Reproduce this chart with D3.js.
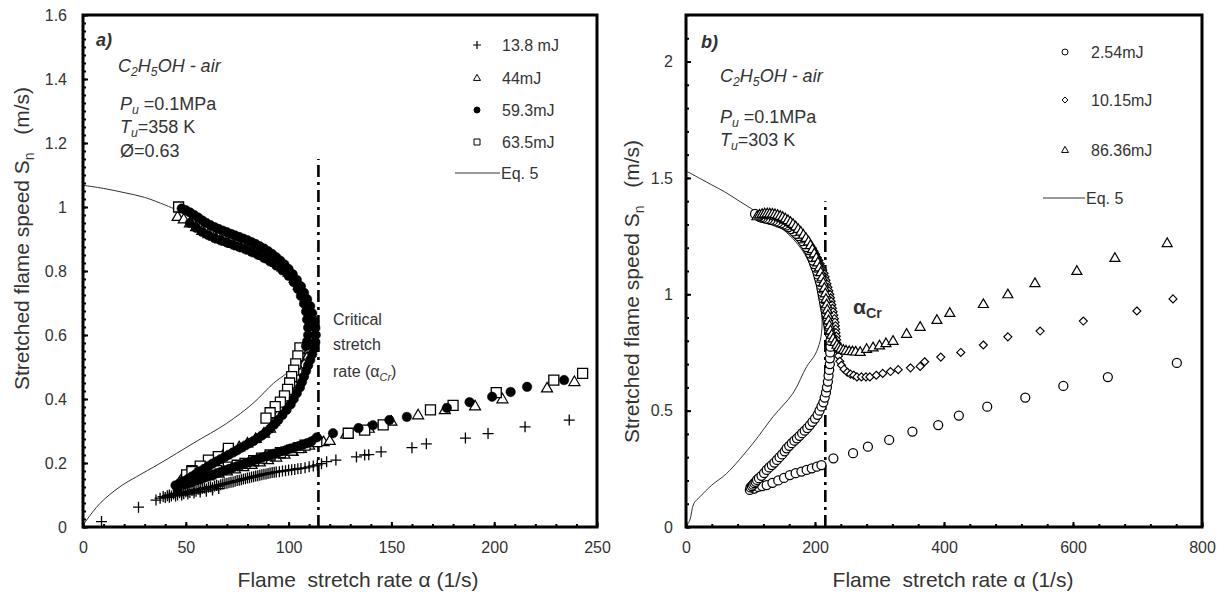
<!DOCTYPE html>
<html>
<head>
<meta charset="utf-8">
<script src="https://cdn.jsdelivr.net/npm/d3@7"></script>
<style>
  body { margin: 0; background: #fff; }
  svg { display: block; font-family: "Liberation Sans", Arial, sans-serif; }
</style>
</head>
<body>
<svg id="chart" width="1227" height="596"></svg>
<script>
// tick labels
var aXTicks = [0, 50, 100, 150, 200, 250];
var aYTicks = [0, 0.2, 0.4, 0.6, 0.8, 1, 1.2, 1.4, 1.6];
var bXTicks = [0, 200, 400, 600, 800];
var bYTicks = [0, 0.5, 1, 1.5, 2];

// critical stretch rate lines [alpha, top of line]
var aCritical = [114.5, 1.15];
var bCritical = [216, 1.40];

var aLegend = ["13.8 mJ", "44mJ", "59.3mJ", "63.5mJ", "Eq. 5"];
var bLegend = ["2.54mJ", "10.15mJ", "86.36mJ", "Eq. 5"];

// panel a) : [stretch rate 1/s, flame speed m/s]
var a13_8 = [[9,0.017],[27,0.062],[35.5,0.084],[37.5,0.09],[39,0.095],[40,0.092],[41,0.098],[42,0.1],[43,0.097],
  [44,0.103],[45,0.105],[46,0.1],[47,0.107],[48,0.108],[49,0.104],[50,0.11],[51,0.112],[52,0.108],[53,0.114],
  [54,0.116],[55,0.112],[56,0.118],[57,0.117],[58,0.12],[59,0.122],[60,0.119],[61,0.124],[62,0.126],[63,0.123],
  [64,0.128],[65,0.13],[66,0.128],[67,0.132],[68,0.134],[69,0.135],[70,0.137],[71,0.138],[72,0.14],[73,0.141],
  [74,0.143],[75,0.145],[76,0.146],[77,0.148],[78,0.15],[79,0.151],[80,0.153],[81,0.154],[82,0.156],[83,0.157],
  [84,0.159],[85,0.16],[86,0.162],[87,0.163],[88,0.165],[89,0.166],[90,0.167],[91,0.169],[92,0.17],[93,0.171],
  [94,0.172],[95.5,0.173],[97,0.175],[98.5,0.176],[100,0.178],[101.5,0.179],[103,0.18],[104.5,0.182],[106,0.183],
  [108,0.185],[110,0.188],[112,0.191],[114,0.194],[116,0.198],[118.5,0.204],[123,0.209],[133,0.219],[137,0.225],
  [139,0.226],[145,0.235],[160,0.248],[167,0.26],[186,0.278],[197,0.292],[215,0.313],[236.5,0.334],
  [42,0.093],[45,0.097],[48,0.1],[51,0.103],[54,0.106],[57,0.109],[60,0.112],[63,0.116],[66,0.12]];

var a44 = [[46,0.97],[49,0.962],[52,0.95],[55,0.938],[58,0.926],[61,0.916],[64,0.908],[67,0.9],[70,0.893],
  [73,0.886],[76,0.879],[79,0.872],[82,0.865],[85,0.857],[88,0.848],[91,0.838],[94,0.826],[97,0.812],[100,0.796],
  [103,0.776],[105,0.755],[107,0.73],[108.5,0.705],[110,0.68],[111,0.655],[111.5,0.63],[111.5,0.604],[111,0.578],
  [110,0.553],[109,0.53],[107.5,0.508],[106,0.486],[104.5,0.464],[103,0.443],[101,0.42],[99,0.398],[97,0.375],
  [95,0.352],[93,0.33],[91,0.308],[88,0.293],[84,0.276],[80,0.262],[76,0.25],[72,0.237],[68,0.224],[64,0.211],
  [60,0.197],[56,0.182],[52,0.166],[48,0.15],
  [47,0.14],[50,0.143],[54,0.149],[58,0.156],[62,0.162],[66,0.168],[70,0.175],[74,0.181],[78,0.188],[82,0.195],
  [86,0.203],[90,0.21],[94,0.218],[98,0.227],[102,0.236],[106,0.245],[110,0.255],[117,0.266],[120,0.27],[128,0.29],
  [139,0.308],[150,0.33],[163,0.35],[176,0.366],[190.7,0.378],[204,0.4],[225.7,0.434],[239,0.454]];

var a59_3 = [[48,0.995],[50,0.99],[52,0.983],[54,0.975],[56,0.967],[58,0.958],[60,0.95],[62,0.943],[64,0.937],
  [66,0.931],[68,0.926],[70,0.921],[72,0.916],[74,0.911],[76,0.906],[78,0.901],[80,0.896],[82,0.89],[84,0.884],
  [86,0.877],[88,0.87],[90,0.862],[92,0.853],[94,0.843],[96,0.832],[98,0.82],[100,0.806],[102,0.79],[104,0.772],
  [106,0.752],[107.5,0.732],[109,0.712],[110.5,0.69],[111.5,0.668],[112.5,0.645],[113,0.622],[113.2,0.6],
  [113,0.578],[112.5,0.558],[111.5,0.54],[110.5,0.522],[109.5,0.505],[108.5,0.488],[107.5,0.47],[106.5,0.453],
  [105.5,0.436],[104,0.418],[102.5,0.4],[101,0.383],[99,0.366],[97,0.35],[95,0.335],[93,0.32],[91,0.307],
  [89,0.296],[87,0.286],[85,0.277],[83,0.269],[81,0.262],[79,0.255],[77,0.248],[75,0.24],[73,0.233],[71,0.226],
  [69,0.219],[67,0.212],[65,0.205],[63,0.198],[61,0.19],[59,0.182],[57,0.174],[55,0.166],[53,0.158],[51,0.15],
  [49,0.143],[47,0.137],[45,0.13],[46,0.122],
  [52,0.95],[55,0.935],[58,0.922],[61,0.912],[64,0.903],[67,0.896],[70,0.889],[73,0.882],[76,0.875],[79,0.868],
  [82,0.86],[85,0.851],[88,0.841],[91,0.83],[94,0.817],[97,0.802],[100,0.785],[102.5,0.765],[104.5,0.744],
  [106,0.722],[107.5,0.698],[108.5,0.673],[109,0.648],[109.5,0.623],[109.5,0.6],[109,0.58],[108.5,0.565],
  [49,0.132],[51,0.136],[53,0.14],[55,0.145],[57,0.149],[59,0.154],[61,0.159],[63,0.163],[65,0.168],[67,0.172],
  [69,0.177],[71,0.181],[73,0.186],[75,0.19],[77,0.195],[79,0.199],[81,0.203],[83,0.208],[85,0.212],[87,0.217],
  [89,0.221],[91,0.225],[93,0.229],[95,0.233],[97,0.237],[99,0.241],[101,0.245],[103,0.249],[105,0.253],
  [107,0.257],[109,0.262],[111,0.267],[113.7,0.28],[121.6,0.293],[134,0.309],[141,0.318],[149,0.334],
  [157.5,0.344],[177,0.372],[188,0.39],[199,0.407],[208,0.422],[216,0.438],[234,0.459]];

var a63_5 = [[46.5,1.0],
  [105.5,0.56],[104.5,0.535],[103.5,0.51],[102.5,0.49],[101.5,0.47],[100.5,0.45],[99.5,0.43],[98,0.41],
  [96,0.39],[93.5,0.376],[91,0.357],[89,0.34],
  [70.7,0.246],[65.8,0.22],[61,0.209],[57,0.19],[53,0.176],[50.4,0.163],
  [53,0.173],[57,0.168],[61,0.163],[65,0.176],[70.7,0.187],[75,0.193],[78.8,0.199],[83,0.207],[86.9,0.215],
  [91,0.225],[96,0.232],[101.5,0.24],[105,0.248],[108,0.256],[113.7,0.267],[129,0.293],[137,0.303],
  [146,0.319],[169,0.366],[180,0.38],[201,0.42],[229,0.459],[243,0.48]];

var aEq5 = [[0,1.068],[10,1.058],[20,1.045],[30,1.03],[40,1.006],[46,0.99],[55,0.968],[65,0.94],[75,0.91],
  [85,0.875],[95,0.83],[103,0.775],[108,0.715],[111,0.65],[111.5,0.6],[110,0.56],[107,0.53],[103,0.5],
  [98,0.475],[92.6,0.449],[82.8,0.387],[69.9,0.324],[53.7,0.262],[37.5,0.199],[26,0.157],[18,0.126],
  [8.3,0.074],[1.8,0.022],[0,0.005]];

// panel b)
var b2_54 = [[99,0.159],[106,0.165],[112,0.172],[118,0.176],[125,0.18],[134,0.19],[143,0.2],[152,0.211],
  [161,0.223],[170,0.231],[179,0.238],[187,0.245],[195,0.252],[203,0.259],[210,0.266],[228.5,0.295],[259,0.317],
  [282,0.345],[315,0.374],[351,0.41],[391,0.438],[423,0.479],[467,0.517],[526,0.556],[585,0.606],[654,0.644],
  [761,0.705],
  [100,0.17],[102,0.176],[104,0.182],[106,0.188],[108,0.194],[110,0.202],[113,0.21],[117,0.22],[121,0.232],
  [125,0.245],[129,0.256],[133,0.266],[137,0.277],[141,0.288],[145,0.3],[149,0.312],[153,0.325],[156,0.338],
  [160,0.349],[164,0.36],[168,0.371],[172,0.381],[176,0.392],[180,0.403],[184,0.414],[188,0.425],[192,0.438],
  [196,0.452],[200,0.466],[204,0.482],[207,0.5],[210,0.518],[213,0.536],[215,0.556],[217,0.578],[218.5,0.6],
  [220,0.625],[221,0.65],[222,0.675],[223,0.7],[223,0.725],[223.5,0.75],[224,0.775],[224,0.8],
  [223,0.83],[222,0.845],[221,0.86],[220,0.875],[219,0.89],[218,0.905],[217,0.92],[216,0.935],[215,0.95],
  [214,0.965],[213,0.98],[212,0.995],[211,1.01],[210,1.025],[209,1.04],[207.5,1.055],[206,1.07],[204.5,1.085],
  [203,1.1],[201,1.115],[199,1.13],[197,1.145],[195,1.16],[192.5,1.175],[190,1.19],[187,1.203],[184,1.215],
  [181,1.228],[178,1.24],[174.5,1.25],[171,1.26],[167,1.27],[163,1.28],[159,1.288],[155,1.295],[151,1.3],
  [147,1.305],[143,1.309],[139,1.313],[135,1.317],[131,1.32],[127,1.323],[123,1.325],[119,1.328],[116,1.33],
  [113,1.335],[110,1.34],[107,1.345]];

var b10_15 = [[114,1.345],[118,1.344],[122,1.342],[126,1.34],[130,1.338],[134,1.335],[138,1.332],[142,1.328],
  [146,1.323],[150,1.318],[154,1.312],[158,1.305],[162,1.298],[166,1.29],[170,1.282],[174,1.273],[177,1.264],
  [180.5,1.254],[184,1.244],[187,1.233],[190,1.222],[193,1.21],[196,1.198],[198.5,1.185],[201,1.172],
  [203.5,1.158],[206,1.145],[208,1.131],[210,1.118],[212,1.104],[214,1.09],[215.5,1.075],[217,1.06],
  [218.5,1.045],[220,1.03],[221.5,1.015],[223,1.0],[224,0.985],[225,0.97],[226,0.955],[227,0.94],[228,0.925],
  [229,0.91],[230,0.895],[231,0.88],[231.5,0.865],[232,0.85],[232.5,0.835],[233,0.82],[233.5,0.805],[234,0.79],
  [234.5,0.775],[235,0.76],[236.5,0.735],[238.5,0.712],[241,0.695],[245,0.678],[250,0.665],[255,0.657],
  [260,0.652],[265,0.645],[272,0.645],[279,0.645],[285,0.645],[295,0.652],[305,0.66],[317,0.668],[329,0.676],
  [348,0.684],[363,0.69],[370,0.71],[395,0.73],[426,0.75],[461,0.782],[499,0.817],[549,0.842],[616,0.885],
  [699,0.928],[755,0.98]];

var b86_36 = [[110,1.335],[114,1.342],[118,1.345],[122,1.347],[126,1.348],[130,1.347],[134,1.346],[138,1.344],
  [142,1.341],[146,1.337],[150,1.332],[154,1.326],[158,1.319],[162,1.311],[166,1.302],[170,1.292],[174,1.281],
  [178,1.269],[182,1.256],[186,1.242],[190,1.227],[193,1.211],[196,1.194],[199,1.176],[202,1.157],
  [204.5,1.137],[207,1.116],[209,1.095],[211,1.073],[213,1.05],[214.5,1.027],[216,1.004],[217,0.98],
  [218,0.957],[219,0.934],[220,0.911],[221,0.888],[222.5,0.866],[224,0.845],[226,0.826],[228,0.81],[231,0.795],
  [234,0.783],[237,0.773],[240,0.766],[244,0.761],[248,0.758],[253,0.756],[258,0.755],[263,0.754],[270,0.752],
  [280,0.765],[290,0.772],[300,0.78],[310,0.79],[321,0.8],[342,0.83],[363,0.86],[389,0.89],[409,0.92],
  [461,0.958],[499,1.0],[541,1.048],[606,1.1],[665,1.156],[746,1.22]];

var bEq5 = [[0,1.53],[20,1.5],[40,1.47],[60,1.44],[80,1.405],[100,1.37],[120,1.335],[140,1.3],[160,1.255],
  [180,1.19],[195,1.11],[205,1.02],[210,0.94],[211,0.87],[208,0.8],[200,0.74],[187,0.689],[166,0.575],
  [135,0.474],[104,0.36],[63,0.23],[40,0.18],[21.7,0.13],[12,0.1],[6,0.03],[0,0.0]];

var svg = d3.select("#chart");
var textColor = "#333";

function markerPath(type, s){
  var h = s / 2;
  if (type == "plus") return "M" + (-h) + ",0H" + h + "M0," + (-h) + "V" + h;
  if (type == "square") return "M" + (-h) + "," + (-h) + "h" + s + "v" + s + "h" + (-s) + "Z";
  if (type == "diamond") return "M0," + (-h) + "L" + h + ",0L0," + h + "L" + (-h) + ",0Z";
  if (type == "triangle"){
    var t = s * 0.866;
    return "M0," + (-t * 0.6) + "L" + h + "," + (t * 0.4) + "L" + (-h) + "," + (t * 0.4) + "Z";
  }
  // circle, s = diameter
  return "M" + h + ",0A" + h + "," + h + " 0 1,1 " + (-h) + ",0A" + h + "," + h + " 0 1,1 " + h + ",0Z";
}

var markerStyle = {
  plus:     { fill: "none",  stroke: "#000", sw: 1.3 },
  triangle: { fill: "#fff",  stroke: "#000", sw: 1.2 },
  dot:      { fill: "#000",  stroke: "#000", sw: 0.5 },
  square:   { fill: "#fff",  stroke: "#000", sw: 1.3 },
  circle:   { fill: "#fff",  stroke: "#000", sw: 1.25 },
  diamond:  { fill: "#fff",  stroke: "#000", sw: 1.15 }
};

function drawPanel(cfg){
  var x = d3.scaleLinear().domain(cfg.xDomain).range([cfg.left, cfg.right]);
  var y = d3.scaleLinear().domain(cfg.yDomain).range([cfg.bottom, cfg.top]);
  var g = svg.append("g");

  // minor ticks (inside)
  g.append("g")
    .attr("transform", "translate(0," + cfg.bottom + ")")
    .call(d3.axisBottom(x).tickValues(cfg.xMinor).tickSize(-3).tickFormat(""))
    .call(function(s){ s.select(".domain").remove(); });
  g.append("g")
    .attr("transform", "translate(" + cfg.left + ",0)")
    .call(d3.axisLeft(y).tickValues(cfg.yMinor).tickSize(-3).tickFormat(""))
    .call(function(s){ s.select(".domain").remove(); });

  // major ticks + labels
  var xa = g.append("g")
    .attr("transform", "translate(0," + cfg.bottom + ")")
    .call(d3.axisBottom(x).tickValues(cfg.xTicks).tickSizeInner(-5).tickSizeOuter(0).tickPadding(15)
      .tickFormat(d3.format("~g")));
  var ya = g.append("g")
    .attr("transform", "translate(" + cfg.left + ",0)")
    .call(d3.axisLeft(y).tickValues(cfg.yTicks).tickSizeInner(-5).tickSizeOuter(0).tickPadding(cfg.yPad)
      .tickFormat(d3.format("~g")));
  [xa, ya].forEach(function(a){
    a.select(".domain").remove();
    a.selectAll("text").attr("font-size", 16).attr("fill", textColor).attr("font-family", null);
  });
  g.selectAll(".tick line").attr("stroke", "#000").attr("stroke-width", 2);

  // critical stretch rate
  g.append("line")
    .attr("x1", x(cfg.critical[0])).attr("x2", x(cfg.critical[0]))
    .attr("y1", y(0)).attr("y2", y(cfg.critical[1]))
    .attr("stroke", "#000").attr("stroke-width", 2.6)
    .attr("stroke-dasharray", "12,5,3,5");

  // Eq. 5
  var line = d3.line()
    .x(function(d){ return x(d[0]); })
    .y(function(d){ return y(d[1]); })
    .curve(d3.curveCatmullRom.alpha(0.5));
  g.append("path")
    .datum(cfg.eq)
    .attr("fill", "none")
    .attr("stroke", "#333")
    .attr("stroke-width", 1)
    .attr("d", line);

  // data series
  cfg.series.forEach(function(s){
    var st = markerStyle[s.type];
    var shape = s.type == "dot" ? "circle" : s.type;
    g.append("g").selectAll("path")
      .data(s.data)
      .join("path")
      .attr("transform", function(d){ return "translate(" + x(d[0]) + "," + y(d[1]) + ")"; })
      .attr("d", markerPath(shape, s.size))
      .attr("fill", st.fill)
      .attr("stroke", st.stroke)
      .attr("stroke-width", st.sw);
  });

  // frame
  g.append("rect")
    .attr("x", cfg.left).attr("y", cfg.top)
    .attr("width", cfg.right - cfg.left).attr("height", cfg.bottom - cfg.top)
    .attr("fill", "none").attr("stroke", "#000").attr("stroke-width", 3);

  // legend
  cfg.legend.forEach(function(label, i){
    var cy = cfg.legendY[i];
    var m = cfg.legendMarks[i];
    if (m){
      var st = markerStyle[m[0]];
      g.append("path")
        .attr("transform", "translate(" + cfg.legendMarkerX + "," + cy + ")")
        .attr("d", markerPath(m[0] == "dot" ? "circle" : m[0], m[1]))
        .attr("fill", st.fill).attr("stroke", st.stroke).attr("stroke-width", m[0] == "plus" ? 1.2 : 1);
    } else {
      g.append("line")
        .attr("x1", cfg.legendLine[0]).attr("x2", cfg.legendLine[1])
        .attr("y1", cy).attr("y2", cy)
        .attr("stroke", "#333").attr("stroke-width", 1);
    }
    g.append("text")
      .attr("x", m ? cfg.legendTextX : cfg.legendLine[1] + 1)
      .attr("y", cy + 6)
      .attr("font-size", 16).attr("fill", textColor)
      .text(label);
  });

  // axis titles
  g.append("text")
    .attr("x", cfg.xTitleX).attr("y", 587)
    .attr("text-anchor", "middle").attr("font-size", 21).attr("fill", textColor)
    .attr("xml:space", "preserve")
    .text("Flame  stretch rate \u03b1 (1/s)");
  var yt = g.append("text")
    .attr("transform", "translate(" + cfg.yTitleX + "," + cfg.yTitleY + ") rotate(-90)")
    .attr("text-anchor", "end").attr("font-size", 21).attr("fill", textColor)
    .attr("xml:space", "preserve");
  yt.append("tspan").text("Stretched flame speed S");
  yt.append("tspan").attr("font-size", 14).attr("dy", 5).text("n");
  yt.append("tspan").attr("dy", -5).text("   (m/s)");

  return g;
}

function label(g, xp, yp, parts, size, italic){
  var t = g.append("text").attr("x", xp).attr("y", yp)
    .attr("font-size", size).attr("fill", textColor)
    .attr("font-style", italic ? "italic" : null);
  parts.forEach(function(p){
    var sp = t.append("tspan").text(p[0]);
    if (p[1] == "sub") sp.attr("font-size", size * 0.68).attr("dy", 4);
    if (p[1] == "up") sp.attr("dy", -4);
    if (p[2]) sp.attr("font-style", p[2]);
  });
  return t;
}

// ---- panel a ----
var gA = drawPanel({
  left: 83, right: 597, top: 15, bottom: 527,
  xDomain: [0, 250], yDomain: [0, 1.6],
  xTicks: aXTicks, yTicks: aYTicks,
  xMinor: d3.range(0, 251, 10), yMinor: d3.range(0, 1.601, 0.025),
  yPad: 16,
  critical: aCritical, eq: aEq5,
  series: [
    { data: a13_8, type: "plus", size: 11 },
    { data: a44, type: "triangle", size: 11 },
    { data: a63_5, type: "square", size: 10 },
    { data: a59_3, type: "dot", size: 9.5 }
  ],
  legend: aLegend,
  legendMarks: [["plus", 8], ["triangle", 7], ["dot", 6], ["square", 6], null],
  legendY: [45, 78, 110, 142, 173],
  legendMarkerX: 477, legendTextX: 502, legendLine: [455, 500],
  xTitleX: 358, yTitleX: 29, yTitleY: 87
});

label(gA, 96, 46, [["a)"]], 18, true).attr("font-weight", "bold");
label(gA, 118, 72, [["C"],["2","sub"],["H","up"],["5","sub"],["OH - air","up"]], 18, true);
label(gA, 120, 110, [["P", null, "italic"],["u","sub","italic"],[" =0.1MPa","up"]], 18, false);
label(gA, 120, 133, [["T", null, "italic"],["u","sub","italic"],["=358 K","up"]], 18, false);
label(gA, 120, 157, [["\u00d8=0.63"]], 18, false);
label(gA, 333, 325, [["Critical"]], 16, false);
label(gA, 333, 350, [["stretch"]], 16, false);
label(gA, 333, 377, [["rate (\u03b1"],["Cr","sub","italic"],[")","up"]], 16, false);

// ---- panel b ----
var gB = drawPanel({
  left: 686, right: 1202, top: 15, bottom: 527,
  xDomain: [0, 800], yDomain: [0, 2.2],
  xTicks: bXTicks, yTicks: bYTicks,
  xMinor: d3.range(0, 801, 40), yMinor: d3.range(0, 2.201, 0.1),
  yPad: 13,
  critical: bCritical, eq: bEq5,
  series: [
    { data: b2_54, type: "circle", size: 9 },
    { data: b10_15, type: "diamond", size: 8 },
    { data: b86_36, type: "triangle", size: 10 }
  ],
  legend: bLegend,
  legendMarks: [["circle", 6], ["diamond", 6], ["triangle", 7], null],
  legendY: [52, 100, 150, 198],
  legendMarkerX: 1065, legendTextX: 1091, legendLine: [1043, 1085],
  xTitleX: 953, yTitleX: 639, yTitleY: 140
});

label(gB, 701, 48, [["b)"]], 18, true).attr("font-weight", "bold");
label(gB, 720, 82, [["C"],["2","sub"],["H","up"],["5","sub"],["OH - air","up"]], 18, true);
label(gB, 720, 123, [["P", null, "italic"],["u","sub","italic"],[" =0.1MPa","up"]], 18, false);
label(gB, 720, 146, [["T", null, "italic"],["u","sub","italic"],["=303 K","up"]], 18, false);
label(gB, 853, 314, [["\u03b1"],["Cr","sub"]], 21, false).attr("font-weight", "bold");
</script>
</body>
</html>
